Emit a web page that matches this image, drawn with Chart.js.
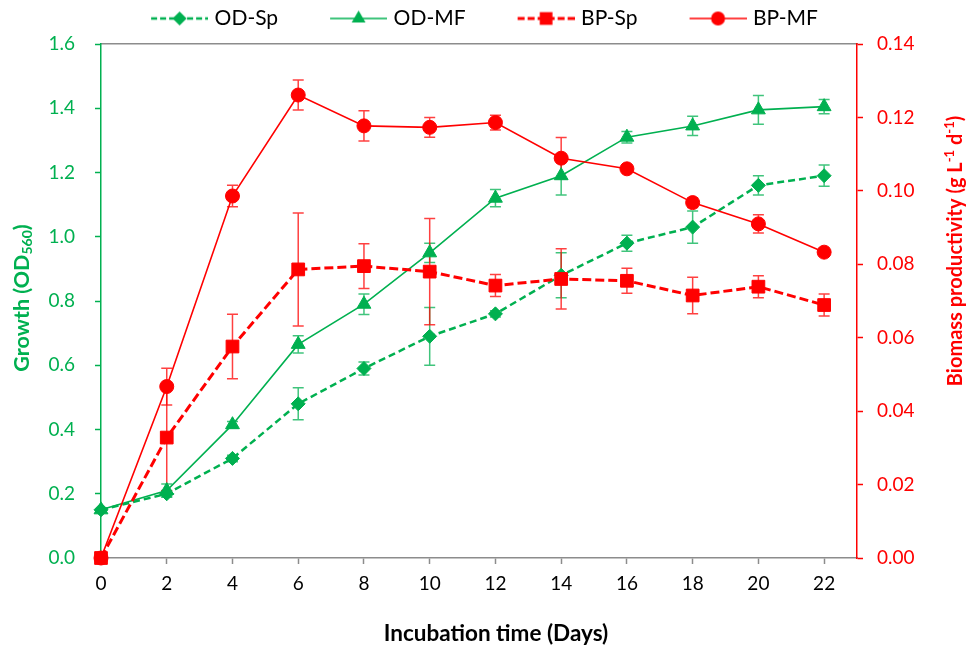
<!DOCTYPE html>
<html><head><meta charset="utf-8">
<script src="https://cdn.jsdelivr.net/npm/chart.js@4"></script>
<style>html,body{margin:0;padding:0;background:#fff}#wrap{width:979px;height:645px;position:relative}</style>
</head><body><div id="wrap"><canvas id="c"></canvas></div>
<script>
// ---- data ----
const days = [0, 2, 4, 6, 8, 10, 12, 14, 16, 18, 20, 22];
const odSp    = [0.15, 0.20, 0.31, 0.48, 0.59, 0.69, 0.76, 0.88, 0.98, 1.03, 1.16, 1.19];
const odSpErr = [0, 0.01, 0.01, 0.05, 0.02, 0.09, 0.01, 0.07, 0.025, 0.05, 0.03, 0.033];
const odMF    = [0.15, 0.21, 0.415, 0.665, 0.79, 0.95, 1.12, 1.19, 1.31, 1.345, 1.395, 1.405];
const odMFErr = [0, 0.02, 0.01, 0.027, 0.032, 0.03, 0.027, 0.06, 0.018, 0.03, 0.045, 0.022];
const bpSp    = [0, 0.0328, 0.0576, 0.0786, 0.0795, 0.078, 0.0742, 0.076, 0.0755, 0.0715, 0.0739, 0.0689];
const bpSpErr = [0, 0.0145, 0.0088, 0.0154, 0.0061, 0.0145, 0.003, 0.0082, 0.0034, 0.005, 0.003, 0.003];
const bpMF    = [0, 0.0467, 0.0986, 0.1261, 0.1177, 0.1173, 0.1186, 0.1089, 0.106, 0.0968, 0.091, 0.0833];
const bpMFErr = [0, 0.005, 0.0029, 0.0041, 0.0041, 0.0027, 0.002, 0.0056, 0.0008, 0.0013, 0.0025, 0];
const seriesNames = ['OD-Sp', 'OD-MF', 'BP-Sp', 'BP-MF'];
const xTitle = 'Incubation time (Days)';

const GREEN = '#00B050', RED = '#FF0000', GREY = '#8C8C8C';
const FONT = 'Lato, "Open Sans", sans-serif';

const pts = vals => days.map((d, i) => ({x: d, y: vals[i]}));

const ICON_GAP = 40, ICON_W = 57, ICON_SHIFT = 8;
function legendIcon(color, dash, lw, style, r) {
  const c = document.createElement('canvas');
  c.width = ICON_GAP + ICON_W + ICON_SHIFT; c.height = 20;
  const ctx = c.getContext('2d');
  const x0 = ICON_GAP + ICON_SHIFT;
  ctx.strokeStyle = color; ctx.lineWidth = lw; ctx.setLineDash(dash);
  ctx.beginPath(); ctx.moveTo(x0, 10); ctx.lineTo(x0 + ICON_W, 10); ctx.stroke();
  ctx.setLineDash([]);
  ctx.fillStyle = color; ctx.strokeStyle = color;
  Chart.helpers.drawPoint(ctx, {pointStyle: style, radius: r, borderWidth: 0}, x0 + ICON_W / 2, 10);
  return c;
}

const errPlugin = {
  id: 'errbars',
  beforeDatasetsDraw(chart) {
    const ctx = chart.ctx, xs = chart.scales.x;
    chart.data.datasets.forEach((ds, i) => {
      const ys = chart.scales[ds.yAxisID];
      ctx.save();
      ctx.strokeStyle = ds.errColor; ctx.lineWidth = 1.5;
      ds.errors.forEach((e, j) => {
        if (!e) return;
        const px = xs.getPixelForValue(ds.data[j].x), v = ds.data[j].y;
        const y1 = ys.getPixelForValue(v + e), y0 = ys.getPixelForValue(v - e);
        ctx.beginPath();
        ctx.moveTo(px, y1); ctx.lineTo(px, y0);
        ctx.moveTo(px - 5.5, y1); ctx.lineTo(px + 5.5, y1);
        ctx.moveTo(px - 5.5, y0); ctx.lineTo(px + 5.5, y0);
        ctx.stroke();
      });
      ctx.restore();
    });
  }
};

function drawRich(ctx, parts, cx, cy, rot, color) {
  ctx.save();
  ctx.translate(cx, cy); ctx.rotate(rot);
  ctx.fillStyle = color; ctx.textBaseline = 'middle'; ctx.textAlign = 'left';
  let w = 0;
  parts.forEach(p => { ctx.font = 'bold ' + p.s + 'px ' + FONT; w += ctx.measureText(p.t).width; });
  let x = -w / 2;
  parts.forEach(p => {
    ctx.font = 'bold ' + p.s + 'px ' + FONT;
    ctx.fillText(p.t, x, p.dy || 0);
    x += ctx.measureText(p.t).width;
  });
  ctx.restore();
}

const titlePlugin = {
  id: 'axisTitles',
  afterDraw(chart) {
    const ctx = chart.ctx;
    drawRich(ctx, [{t: xTitle, s: 22.5}], 496, 634, 0, '#000');
    drawRich(ctx, [{t: 'Growth (OD', s: 21.5}, {t: '560', s: 14, dy: 5}, {t: ')', s: 21.5}],
      22, 298, -Math.PI / 2, GREEN);
    drawRich(ctx, [{t: 'Biomass productivity (g L', s: 20}, {t: '-1', s: 13, dy: -6},
      {t: ' d', s: 20}, {t: '-1', s: 13, dy: -6}, {t: ')', s: 20}],
      956, 251, -Math.PI / 2, RED);
  }
};

const legendFix = {
  id: 'legendFix',
  beforeLayout(chart) {
    const lg = chart.legend;
    if (lg && !lg._fixed) {
      const f = lg.fit.bind(lg);
      lg.fit = function () { f(); this.height = 44; };
      lg._fixed = true;
    }
  },
  afterLayout(chart) {
    const lg = chart.legend;
    if (lg) { lg.left -= 27; lg.right -= 27; }
  }
};

const datasets = [
  {label: seriesNames[0], data: pts(odSp), errors: odSpErr, errColor: 'rgba(0,176,80,0.75)',
   yAxisID: 'y', borderColor: GREEN, backgroundColor: GREEN, borderWidth: 2.5, borderDash: [7, 4],
   pointStyle: 'rectRot', pointRadius: 7, pointBorderWidth: 1, order: 4, clip: false,
   icon: legendIcon(GREEN, [6, 3], 2.5, 'rectRot', 7)},
  {label: seriesNames[1], data: pts(odMF), errors: odMFErr, errColor: 'rgba(0,176,80,0.75)',
   yAxisID: 'y', borderColor: GREEN, backgroundColor: GREEN, borderWidth: 1.6,
   pointStyle: 'triangle', pointRadius: 8, pointBorderWidth: 1, order: 3, clip: false,
   icon: legendIcon(GREEN, [], 1.6, 'triangle', 8)},
  {label: seriesNames[2], data: pts(bpSp), errors: bpSpErr, errColor: 'rgba(255,0,0,0.75)',
   yAxisID: 'y2', borderColor: RED, backgroundColor: RED, borderWidth: 3, borderDash: [9, 4],
   pointStyle: 'rect', pointRadius: 9, pointBorderWidth: 1, order: 2, clip: false,
   icon: legendIcon(RED, [7, 3], 3, 'rect', 9)},
  {label: seriesNames[3], data: pts(bpMF), errors: bpMFErr, errColor: 'rgba(255,0,0,0.75)',
   yAxisID: 'y2', borderColor: RED, backgroundColor: RED, borderWidth: 1.6,
   pointStyle: 'circle', pointRadius: 7, pointBorderWidth: 1, order: 1, clip: false,
   icon: legendIcon(RED, [], 1.6, 'circle', 7)}
];

new Chart(document.getElementById('c'), {
  type: 'line',
  data: {datasets},
  plugins: [errPlugin, titlePlugin, legendFix],
  options: {
    responsive: true, maintainAspectRatio: false, devicePixelRatio: 1,
    animation: false, events: [],
    layout: {padding: 0},
    plugins: {
      tooltip: {enabled: false},
      legend: {
        position: 'top',
        labels: {
          usePointStyle: true, pointStyleWidth: ICON_GAP + ICON_W, padding: 8,
          color: '#000', font: {family: FONT, size: 21},
          sort: (a, b) => a.datasetIndex - b.datasetIndex,
          generateLabels(chart) {
            return chart.data.datasets.map((ds, i) => ({
              text: ds.label, pointStyle: ds.icon, datasetIndex: i,
              fillStyle: ds.borderColor, strokeStyle: ds.borderColor, lineWidth: 0, hidden: false,
              fontColor: '#000'
            }));
          }
        }
      }
    },
    scales: {
      x: {
        type: 'linear', position: 'bottom', min: 0, max: 23,
        ticks: {stepSize: 2, includeBounds: false, autoSkip: false, maxRotation: 0,
          color: '#000', font: {family: FONT, size: 19}, padding: 8},
        grid: {drawOnChartArea: false, drawTicks: true, tickLength: 6, tickColor: GREY, tickWidth: 1.5},
        border: {color: GREY, width: 1.5},
        afterFit(s) { s.height = 87; }
      },
      xTop: {
        type: 'linear', position: 'top', min: 0, max: 23,
        ticks: {display: false}, grid: {display: false},
        border: {color: GREY, width: 1.5},
        afterFit(s) { s.height = 0; }
      },
      y: {
        position: 'left', min: 0, max: 1.6,
        ticks: {stepSize: 0.2, color: GREEN, font: {family: FONT, size: 19}, padding: 20,
          callback: v => v.toFixed(1)},
        grid: {drawOnChartArea: false, drawTicks: true, tickLength: 6, tickColor: GREEN, tickWidth: 1.5},
        border: {color: GREEN, width: 1.5},
        afterFit(s) { s.width = 101; }
      },
      y2: {
        position: 'right', min: 0, max: 0.14,
        ticks: {stepSize: 0.02, color: RED, font: {family: FONT, size: 19}, padding: 14,
          callback: v => v.toFixed(2)},
        grid: {drawOnChartArea: false, drawTicks: true, tickLength: 6, tickColor: RED, tickWidth: 1.5},
        border: {color: RED, width: 1.5},
        afterFit(s) { s.width = 122; }
      }
    }
  }
});
</script>
</body></html>
